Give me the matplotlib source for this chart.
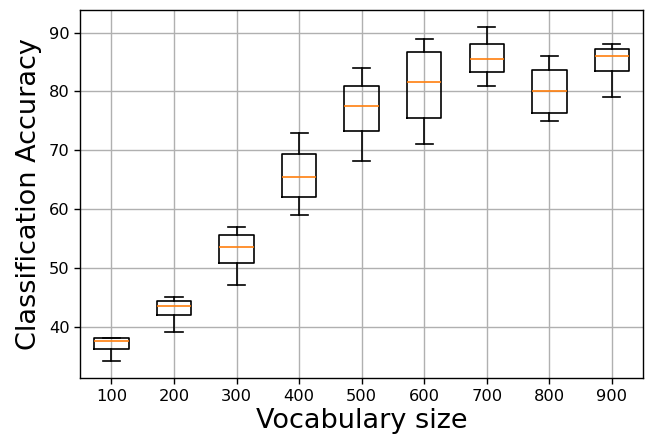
import matplotlib
matplotlib.use("Agg")
import matplotlib.pyplot as plt

# Accuracy spread per vocabulary size
vocab = [100, 200, 300, 400, 500, 600, 700, 800, 900]
whis_lo = [34.1, 39.0, 47.1, 59.0, 68.1, 71.0, 81.0, 75.0, 79.0]
q1 = [36.2, 42.0, 50.8, 62.0, 73.3, 75.4, 83.3, 76.4, 83.4]
med = [37.5, 43.5, 53.6, 65.4, 77.5, 81.6, 85.5, 80.0, 86.0]
q3 = [38.0, 44.3, 55.5, 69.3, 81.0, 86.7, 88.0, 83.7, 87.2]
whis_hi = [38.0, 45.0, 57.0, 73.0, 84.0, 89.0, 91.0, 86.0, 88.1]

stats = []
for i in range(len(vocab)):
    stats.append({"label": str(vocab[i]), "whislo": whis_lo[i], "q1": q1[i],
                  "med": med[i], "q3": q3[i], "whishi": whis_hi[i], "fliers": []})

lw = 1.2
fig, ax = plt.subplots(figsize=(6.47, 4.37), dpi=100)
ax.bxp(stats, widths=0.55, showfliers=False,
       boxprops=dict(linewidth=lw), whiskerprops=dict(linewidth=lw),
       capprops=dict(linewidth=lw), medianprops=dict(linewidth=lw, color="#ff7f0e"))
ax.grid(True, color="#b0b0b0", linewidth=1.0)
ax.set_axisbelow(True)
for s in ax.spines.values():
    s.set_linewidth(1.0)
ax.set_xlabel("Vocabulary size", fontsize=19.5, labelpad=3)
ax.set_ylabel("Classification Accuracy", fontsize=19.5, labelpad=5)
ax.tick_params(labelsize=11.7, length=4.2, width=1.0)
fig.subplots_adjust(left=0.124, right=0.994, top=0.977, bottom=0.135)
fig.savefig("out.png")
